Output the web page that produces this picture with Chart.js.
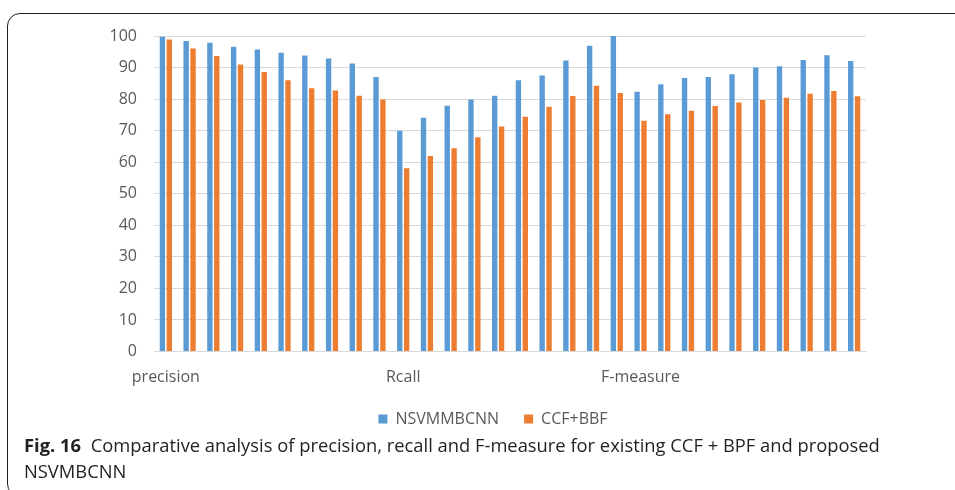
<!DOCTYPE html>
<html>
<head>
<meta charset="utf-8">
<script src="https://cdn.jsdelivr.net/npm/chart.js@4/dist/chart.umd.min.js"></script>
<style>
  html, body { margin: 0; padding: 0; background: #fff; }
  body { width: 955px; height: 490px; position: relative; overflow: hidden; font-family: "Open Sans", sans-serif; }
  #frame {
    position: absolute; left: 7px; top: 13px; width: 1000px; height: 484px;
    border: 1.5px solid #231f20; border-radius: 13px; box-sizing: border-box;
  }
  #wrap { position: absolute; left: 0; top: 0; width: 955px; height: 440px; }
  #caption {
    position: absolute; left: 24px; top: 432px; font-size: 18.35px; line-height: 25.6px;
    color: #231f20; white-space: nowrap;
  }
  #caption b { font-weight: 700; margin-right: 5px; }
</style>
</head>
<body>
<div id="frame"></div>
<div id="wrap"><canvas id="chart"></canvas></div>
<div id="caption"><b>Fig. 16</b> Comparative analysis of precision, recall and F-measure for existing CCF + BPF and proposed<br>NSVMBCNN</div>
<script>
// Category axis: one label per metric block, the rest left blank
const categories = [
  'precision', '', '', '', '', '', '', '', '', '',
  'Rcall', '', '', '', '', '', '', '', '', '',
  'F-measure', '', '', '', '', '', '', '', '', ''
];

const seriesNames = ['NSVMMBCNN', 'CCF+BBF'];

const nsvmmbcnn = [
  99.8, 98.4, 97.9, 96.6, 95.7, 94.7, 93.8, 92.9, 91.3, 87.0,
  70.0, 74.1, 77.9, 79.9, 81.1, 86.0, 87.5, 92.2, 96.9, 100.0,
  82.3, 84.7, 86.7, 87.0, 87.9, 90.0, 90.4, 92.4, 93.9, 92.1
];

const ccfBbf = [
  98.9, 96.0, 93.7, 91.0, 88.6, 86.0, 83.4, 82.7, 81.1, 79.9,
  58.1, 62.0, 64.4, 67.9, 71.3, 74.4, 77.6, 81.0, 84.2, 81.9,
  73.1, 75.2, 76.3, 77.8, 78.9, 79.7, 80.4, 81.7, 82.6, 80.9
];

const yTicks = [0, 10, 20, 30, 40, 50, 60, 70, 80, 90, 100];

const BLUE = '#5b9bd5';
const ORANGE = '#ed7d31';
const TEXT = '#595959';
const GRID = '#d9d9d9';

// Centre the legend on a band that starts a little right of the canvas edge
const legendBand = {
  id: 'legendBand',
  afterLayout(chart) {
    const lg = chart.legend;
    if (lg) { lg.left = 120; }
  }
};

new Chart(document.getElementById('chart'), {
  type: 'bar',
  data: {
    labels: categories,
    datasets: [
      { label: seriesNames[0], data: nsvmmbcnn, backgroundColor: BLUE, borderWidth: 0,
        categoryPercentage: 0.58, barPercentage: 0.78 },
      { label: seriesNames[1], data: ccfBbf, backgroundColor: ORANGE, borderWidth: 0,
        categoryPercentage: 0.58, barPercentage: 0.78 }
    ]
  },
  plugins: [legendBand],
  options: {
    responsive: true,
    maintainAspectRatio: false,
    animation: false,
    layout: { padding: { top: 36, right: 89, left: 100, bottom: 3 } },
    scales: {
      x: {
        grid: { display: false, drawTicks: false },
        border: { display: true, color: GRID, width: 1 },
        ticks: {
          autoSkip: false, maxRotation: 0, minRotation: 0, padding: 16,
          color: TEXT, font: { family: 'Open Sans', size: 16 }
        },
        afterFit(scale) { scale.height = 34.5; }
      },
      y: {
        min: 0, max: 100,
        afterBuildTicks(scale) { scale.ticks = yTicks.map(v => ({ value: v })); },
        grid: { color: GRID, lineWidth: 1, drawTicks: false },
        border: { display: false },
        ticks: {
          padding: 17, color: TEXT, font: { family: 'Open Sans', size: 16 }
        },
        afterFit(scale) { scale.width = 54; }
      }
    },
    plugins: {
      legend: {
        position: 'bottom',
        labels: {
          boxWidth: 9, boxHeight: 9, padding: 25, color: TEXT,
          font: { family: 'Open Sans', size: 16 }
        }
      },
      tooltip: { enabled: false }
    }
  }
});
</script>
</body>
</html>
